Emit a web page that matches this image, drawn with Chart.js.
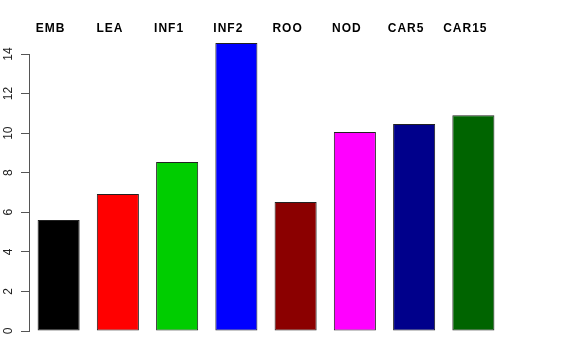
<!DOCTYPE html>
<html>
<head>
<meta charset="utf-8">
<script src="https://cdn.jsdelivr.net/npm/chart.js@4"></script>
<style>
html,body{margin:0;padding:0;background:#fff;}
#wrap{width:576px;height:360px;position:relative;}
</style>
</head>
<body>
<div id="wrap"><canvas id="c" width="576" height="360"></canvas></div>
<script>
const categories = ["EMB","LEA","INF1","INF2","ROO","NOD","CAR5","CAR15"];
const values = [5.61, 6.92, 8.54, 14.55, 6.52, 10.06, 10.46, 10.91];
const barColors = ["#000000","#FF0000","#00CD00","#0000FF","#8B0000","#FF00FF","#00008B","#006400"];
const yTicks = [0,2,4,6,8,10,12,14];

const topLabels = {
  id: 'topLabels',
  afterDraw(chart) {
    const ctx = chart.ctx;
    const xs = chart.scales.x;
    ctx.save();
    ctx.font = 'bold 12px "Liberation Sans", Arial, sans-serif';
    if ('letterSpacing' in ctx) ctx.letterSpacing = '1px';
    ctx.fillStyle = '#000';
    ctx.textAlign = 'center';
    ctx.textBaseline = 'middle';
    categories.forEach((c, i) => {
      ctx.fillText(c, xs.getPixelForValue(i) - 8, 29);
    });
    ctx.restore();
  }
};

new Chart(document.getElementById('c'), {
  type: 'bar',
  data: {
    labels: categories,
    datasets: [{
      data: values,
      backgroundColor: barColors,
      borderColor: '#222222',
      borderWidth: 1,
      borderSkipped: false,
      barPercentage: 0.71,
      categoryPercentage: 1.0,
      clip: false
    }]
  },
  options: {
    responsive: false,
    animation: false,
    devicePixelRatio: 1,
    layout: { padding: { top: 54, bottom: 29, right: 73, left: 0 } },
    plugins: { legend: { display: false }, tooltip: { enabled: false } },
    scales: {
      x: { display: false },
      y: {
        min: 0, max: 14,
        afterBuildTicks: (s) => { s.ticks = yTicks.map(v => ({ value: v })); },
        afterFit: (s) => { s.width = 29; },
        border: { display: true, color: '#555555', width: 1 },
        grid: { display: true, drawOnChartArea: false, drawTicks: true, tickLength: 8, color: '#555555' },
        ticks: {
          minRotation: 90, maxRotation: 90,
          crossAlign: 'center',
          padding: 6,
          color: '#222222',
          font: { family: '"Liberation Sans", Arial, sans-serif', size: 12 }
        }
      }
    }
  },
  plugins: [topLabels]
});
</script>
</body>
</html>
